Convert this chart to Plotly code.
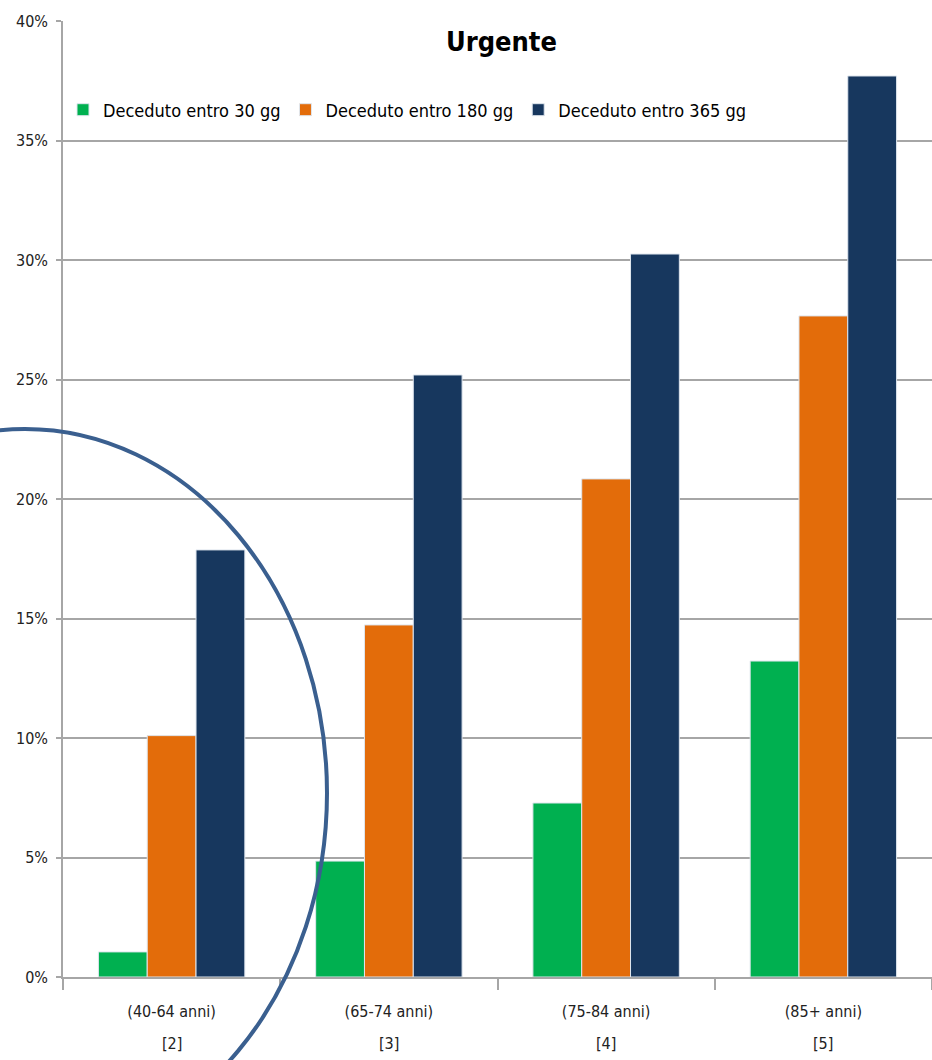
import plotly.graph_objects as go

# Age bands and their class codes (shown as two-line category labels)
age_bands = ["(40-64 anni)", "(65-74 anni)", "(75-84 anni)", "(85+ anni)"]
band_codes = ["[2]", "[3]", "[4]", "[5]"]

# Share of deaths (%) by follow-up window
deceduto_30 = [1.05, 4.85, 7.28, 13.22]
deceduto_180 = [10.1, 14.73, 20.84, 27.66]
deceduto_365 = [17.87, 25.19, 30.25, 37.7]

series_names = ["Deceduto entro 30 gg", "Deceduto entro 180 gg", "Deceduto entro 365 gg"]
series_colors = ["#00b050", "#e36c0a", "#17375e"]

FONT = "DejaVu Sans Condensed, Liberation Sans Narrow, Roboto, sans-serif"

W, H = 932, 1060
L, R, T, B = 63, 0, 21, 83
plot_w = W - L - R
plot_h = H - T - B

fig = go.Figure()
for name, vals, col in zip(series_names, [deceduto_30, deceduto_180, deceduto_365], series_colors):
    fig.add_trace(go.Bar(
        x=age_bands, y=vals, name=name,
        marker=dict(color=col, line=dict(color="#dfe6ee", width=1)),
    ))


def px_x(px):
    return (px - L) / plot_w


def px_y(py):
    return (H - B - py) / plot_h


# Second line of each category label: the class code
for band, code in zip(age_bands, band_codes):
    fig.add_annotation(
        text=code, x=band, xref="x", yref="paper", y=px_y(1043),
        xanchor="center", yanchor="middle", showarrow=False,
        font=dict(family=FONT, size=16, color="#222222"),
    )

# Highlight ellipse around the youngest age band
fig.add_shape(
    type="circle", xref="paper", yref="paper",
    x0=px_x(-277), x1=px_x(327), y0=px_y(1157), y1=px_y(429),
    line=dict(color="#3a5f8f", width=4), fillcolor="rgba(0,0,0,0)", layer="above",
)

fig.add_annotation(
    text="<b>Urgente</b>", xref="paper", yref="paper",
    x=px_x(501), y=px_y(41), xanchor="center", yanchor="middle", showarrow=False,
    font=dict(family=FONT, size=27, color="#000000"),
)

grid_col = "#a6a6a6"
fig.update_layout(
    width=W, height=H,
    margin=dict(l=L, r=R, t=T, b=B, pad=0),
    paper_bgcolor="white", plot_bgcolor="white",
    barmode="group", bargap=0.326, bargroupgap=0,
    font=dict(family=FONT, color="#222222"),
    legend=dict(
        orientation="h", x=0.0, y=px_y(110), xanchor="left", yanchor="middle",
        font=dict(family=FONT, size=18, color="#000000"),
        bgcolor="rgba(0,0,0,0)", itemwidth=30, tracegroupgap=0,
    ),
    showlegend=True,
)
fig.update_xaxes(
    range=[-0.5, 3.5], showgrid=False, showline=True, linecolor=grid_col, linewidth=1.5,
    ticks="outside", tickson="boundaries", ticklen=11, tickcolor=grid_col, tickwidth=1.5,
    ticklabelstandoff=19,
    tickfont=dict(family=FONT, size=16, color="#222222"),
)
fig.update_yaxes(
    range=[0, 40], dtick=5, ticksuffix="%", showgrid=True, gridcolor=grid_col, gridwidth=1.5,
    showline=True, linecolor=grid_col, linewidth=1.5, zeroline=False,
    ticks="outside", ticklen=5, tickcolor=grid_col, tickwidth=1.5, ticklabelstandoff=5,
    tickfont=dict(family=FONT, size=16, color="#222222"),
)

fig.write_html("out.html")
